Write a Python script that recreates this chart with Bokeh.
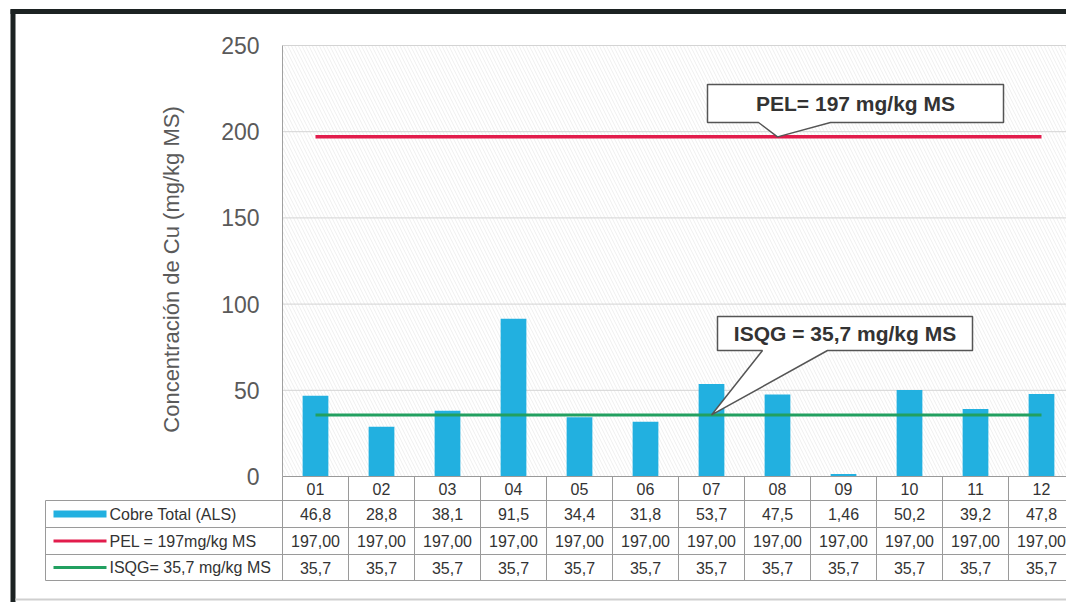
from bokeh.plotting import figure
from bokeh.models import Range1d
from bokeh.core.properties import value
from bokeh.embed import file_html
from bokeh.resources import INLINE

# ---------------- data ----------------
categories = ["01", "02", "03", "04", "05", "06", "07", "08", "09", "10", "11", "12"]
cobre = [46.8, 28.8, 38.1, 91.5, 34.4, 31.8, 53.7, 47.5, 1.46, 50.2, 39.2, 47.8]
pel = [197.0, 197.0, 197.0, 197.0, 197.0, 197.0, 197.0, 197.0, 197.0, 197.0, 197.0, 197.0]
isqg = [35.7, 35.7, 35.7, 35.7, 35.7, 35.7, 35.7, 35.7, 35.7, 35.7, 35.7, 35.7]
y_ticks = [0, 50, 100, 150, 200, 250]
series_names = ["Cobre Total (ALS)", "PEL = 197mg/kg MS", "ISQG= 35,7 mg/kg MS"]
y_title = "Concentración de Cu (mg/kg MS)"
pel_note = "PEL= 197 mg/kg MS"
isqg_note = "ISQG = 35,7 mg/kg MS"

# ---------------- layout helpers (page pixels -> data units) ----------------
W, H = 1066, 602
X0PX, COLW = 282.0, 66.0          # left edge of column "01", column width in px
Y0PX, YTOPPX = 476.0, 45.0        # pixel rows of value 0 and 250
YSC = (Y0PX - YTOPPX) / 250.0


def cx(px):
    return (px - X0PX) / COLW


def cy(py):
    return (Y0PX - py) / YSC


FONT = value("Liberation Sans")
BAR_C = "#22b0e0"
RED_C = "#e21c4c"
GREEN_C = "#22a060"
GRID_C = "#d4d4d4"
TABLE_C = "#9a9a9a"
TXT_C = "#333333"

p = figure(width=W, height=H, output_backend="svg", toolbar_location=None,
           x_range=Range1d(cx(0), cx(W)), y_range=Range1d(cy(H), cy(0)),
           min_border=0, min_border_left=0, min_border_right=0,
           min_border_top=0, min_border_bottom=0)
p.xaxis.visible = False
p.yaxis.visible = False
p.grid.visible = False
p.outline_line_color = None
p.background_fill_color = "white"
p.border_fill_color = "white"

n = len(categories)
centers = [i + 0.5 for i in range(n)]
x_end = cx(W)

# plot area hatch background
p.quad(left=[0], right=[x_end], bottom=[0], top=[y_ticks[-1]], fill_color=None,
       line_color=None, hatch_pattern="\\", hatch_color="#ebebeb",
       hatch_scale=7, hatch_weight=0.8)

# gridlines
p.segment(x0=[0] * (len(y_ticks) - 1), x1=[x_end] * (len(y_ticks) - 1),
          y0=y_ticks[1:], y1=y_ticks[1:], line_color=GRID_C, line_width=1)
# left axis line
p.segment(x0=[0], x1=[0], y0=[0], y1=[y_ticks[-1]], line_color="#a0a0a0", line_width=1)

# y tick labels
p.text(x=[cx(259)] * len(y_ticks), y=y_ticks, text=[str(t) for t in y_ticks],
       text_font=FONT, text_font_size=value("23px"), text_color="#5a5a5a",
       text_align="right", text_baseline="middle")
# y title
p.text(x=[cx(171)], y=[cy(269)], text=[y_title], angle=1.5708,
       text_font=FONT, text_font_size=value("22px"), text_color="#5a5a5a",
       text_align="center", text_baseline="middle")

# bars and lines
p.vbar(x=centers, top=cobre, width=0.39, bottom=0, fill_color=BAR_C, line_color=None)
p.line(x=centers, y=pel, line_color=RED_C, line_width=3.5)
p.line(x=centers, y=isqg, line_color=GREEN_C, line_width=3)

# ---------------- data table ----------------
row_px = [476, 500, 527, 554, 580]          # row boundaries (header + 3 rows)
row_y = [cy(v) for v in row_px]
tbl_left = cx(45)
p.segment(x0=[0], x1=[x_end], y0=[row_y[0]], y1=[row_y[0]], line_color=TABLE_C, line_width=1)
p.segment(x0=[tbl_left] * 4, x1=[x_end] * 4, y0=row_y[1:], y1=row_y[1:],
          line_color=TABLE_C, line_width=1)
p.segment(x0=[tbl_left], x1=[tbl_left], y0=[row_y[1]], y1=[row_y[-1]],
          line_color=TABLE_C, line_width=1)
p.segment(x0=list(range(n + 1)), x1=list(range(n + 1)), y0=[row_y[0]] * (n + 1),
          y1=[row_y[-1]] * (n + 1), line_color=TABLE_C, line_width=1)

mid = [(row_y[i] + row_y[i + 1]) / 2 for i in range(4)]
cell_font = value("16px")
p.text(x=centers, y=[mid[0]] * n, text=categories, text_font=FONT, text_font_size=cell_font,
       text_color=TXT_C, text_align="center", text_baseline="middle")
p.text(x=centers, y=[mid[1]] * n, text=[f"{v:.3g}".replace(".", ",") for v in cobre],
       text_font=FONT, text_font_size=cell_font, text_color=TXT_C,
       text_align="center", text_baseline="middle")
p.text(x=centers, y=[mid[2]] * n, text=[f"{v:.2f}".replace(".", ",") for v in pel],
       text_font=FONT, text_font_size=cell_font, text_color=TXT_C,
       text_align="center", text_baseline="middle")
p.text(x=centers, y=[mid[3]] * n, text=[f"{v:.1f}".replace(".", ",") for v in isqg],
       text_font=FONT, text_font_size=cell_font, text_color=TXT_C,
       text_align="center", text_baseline="middle")

# legend swatches + names
sw0, sw1 = cx(53), cx(106)
p.segment(x0=[sw0], x1=[sw1], y0=[mid[1]], y1=[mid[1]], line_color=BAR_C, line_width=7)
p.segment(x0=[sw0], x1=[sw1], y0=[mid[2]], y1=[mid[2]], line_color=RED_C, line_width=3)
p.segment(x0=[sw0], x1=[sw1], y0=[mid[3]], y1=[mid[3]], line_color=GREEN_C, line_width=3)
p.text(x=[cx(109)] * 3, y=mid[1:], text=series_names, text_font=FONT,
       text_font_size=cell_font, text_color=TXT_C, text_align="left",
       text_baseline="middle")

# ---------------- callouts ----------------
def callout(left, right, top, bottom, base_l, base_r, tip_x, tip_y, label):
    xs = [cx(left), cx(right), cx(right), cx(base_r), tip_x, cx(base_l), cx(left)]
    ys = [cy(top), cy(top), cy(bottom), cy(bottom), tip_y, cy(bottom), cy(bottom)]
    p.patch(x=xs, y=ys, fill_color="white", line_color="#555555", line_width=1.5)
    p.text(x=[cx((left + right) / 2)], y=[cy((top + bottom) / 2)], text=[label],
           text_font=FONT, text_font_size=value("21px"), text_font_style="bold",
           text_color=TXT_C, text_align="center", text_baseline="middle")


callout(707, 1003, 84, 122, 758, 830, centers[7], pel[7], pel_note)
callout(717, 972, 316, 350, 762, 827, centers[6], isqg[6], isqg_note)

# outer frame border
p.segment(x0=[cx(12.5)], x1=[cx(12.5)], y0=[cy(9)], y1=[cy(H)], line_color="#1c2222",
          line_width=5)
p.segment(x0=[cx(10)], x1=[x_end], y0=[cy(11)], y1=[cy(11)], line_color="#1c2222",
          line_width=5)
p.segment(x0=[cx(15)], x1=[x_end], y0=[cy(599)], y1=[cy(599)], line_color="#cfcfcf",
          line_width=2)

open("out.html", "w").write(file_html(p, INLINE))
